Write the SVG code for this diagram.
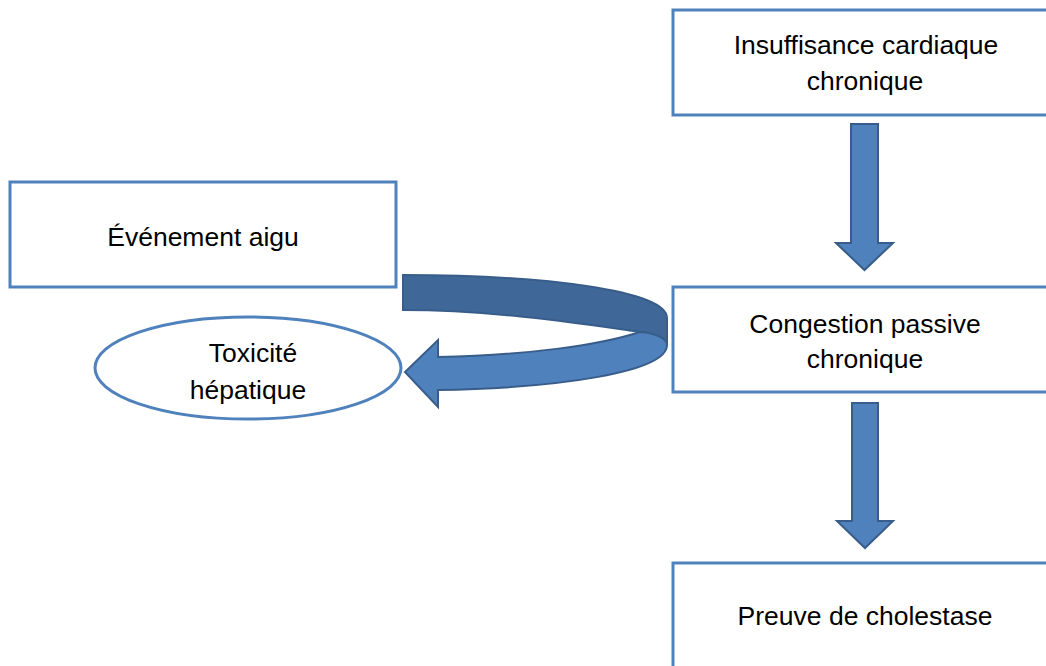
<svg xmlns="http://www.w3.org/2000/svg" width="1046" height="666" viewBox="0 0 1046 666">
<style>
.box{fill:#fff;stroke:#4F81BD;stroke-width:3}
.t{font-family:"Liberation Sans",Arial,sans-serif;font-size:26.5px;fill:#000;text-anchor:middle}
.arr{fill:#4F81BD;stroke:#385D8A;stroke-width:2;stroke-linejoin:miter}
.dark{fill:#3F6898;stroke:#385D8A;stroke-width:2}
</style>
<rect width="1046" height="666" fill="#fff"/>
<g id="connectors">
<path class="arr" d="M851,124 H878 V243 H893 L864.5,270 L836,243 H851 Z"/>
<path class="arr" d="M852,403 H878 V521 H893 L865,548 L837,521 H852 Z"/>
<path class="dark" d="M403,275 C540,275 667,290 667,318 L667,345 C667,340 655,333 640,332 C560,320 480,310 403,310 Z"/>
<path class="arr" d="M640,332 C655,333 667,338 667,345 C667,372 560,388 438,390 L438,407 L405,372 L438,340 L438,357 C530,355 600,345 640,332 Z"/>
</g>
<g id="n-insuffisance">
<rect class="box" x="673" y="10" width="390" height="105"/>
<text class="t" x="866" y="54">Insuffisance cardiaque</text>
<text class="t" x="865" y="90">chronique</text>
</g>
<g id="n-congestion">
<rect class="box" x="673" y="287" width="390" height="105"/>
<text class="t" x="865" y="333">Congestion passive</text>
<text class="t" x="865" y="368">chronique</text>
</g>
<g id="n-preuve">
<rect class="box" x="673" y="563" width="390" height="120"/>
<text class="t" x="865" y="625">Preuve de cholestase</text>
</g>
<g id="n-evenement">
<rect class="box" x="10" y="182" width="386" height="105"/>
<text class="t" x="203" y="246">Événement aigu</text>
</g>
<g id="n-toxicite">
<ellipse class="box" cx="248" cy="368" rx="153" ry="51"/>
<text class="t" x="253" y="362">Toxicité</text>
<text class="t" x="248" y="399">hépatique</text>
</g>
</svg>
